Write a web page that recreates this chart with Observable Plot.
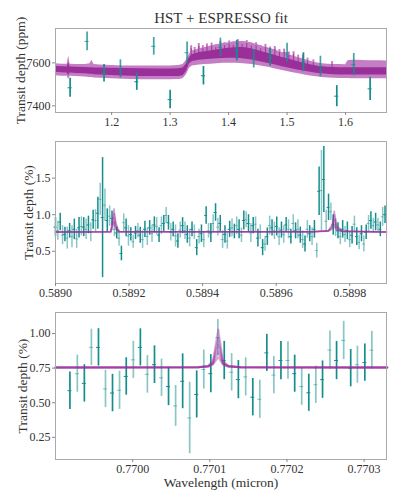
<!DOCTYPE html>
<html><head><meta charset="utf-8">
<script src="https://cdn.jsdelivr.net/npm/d3@7"></script>
<script src="https://cdn.jsdelivr.net/npm/@observablehq/plot@0.6"></script>
<style>
html,body{margin:0;padding:0;background:#fff;overflow:hidden;}
#wrap{position:relative;width:399px;height:498px;}
#wrap > svg{position:absolute;left:0;}
</style></head><body><div id="wrap"></div>
<script>
// ---------- Panel 1: HST WFC3 spectrum + model band ----------
const hstWave  = [1.129,1.158,1.187,1.215,1.243,1.272,1.300,1.329,1.357,1.386,1.414,1.443,1.471,1.500,1.528,1.557,1.585,1.614,1.642];
const hstDepth = [7484,7700,7552,7572,7512,7677,7429,7647,7540,7672,7657,7619,7626,7647,7603,7583,7445,7592,7479];
const hstErr   = [44,44,41,42,40,41,43,50,43,43,48,43,41,44,44,48,49,52,54];

const hstModelW  = [1.104,1.115,1.124,1.1265,1.129,1.14,1.155,1.163,1.166,1.170,1.18,1.20,1.22,1.25,1.28,1.30,1.315,1.322,1.328,1.333,1.338,1.35,1.36,1.37,1.38,1.39,1.40,1.41,1.42,1.43,1.44,1.45,1.46,1.47,1.48,1.49,1.50,1.51,1.52,1.53,1.54,1.55,1.56,1.57,1.58,1.59,1.600,1.604,1.61,1.62,1.63,1.64,1.65,1.66,1.670];
const hstOuterHi = [7596,7594,7594,7632,7594,7592,7592,7596,7612,7592,7590,7588,7586,7585,7585,7586,7588,7592,7612,7640,7655,7666,7672,7678,7684,7690,7694,7698,7700,7698,7692,7684,7675,7668,7660,7650,7642,7632,7624,7616,7608,7600,7596,7594,7592,7592,7591,7610,7612,7612,7611,7610,7610,7610,7609];
const hstOuterLo = [7540,7538,7538,7522,7538,7536,7534,7532,7532,7530,7528,7526,7524,7522,7522,7522,7523,7526,7545,7575,7586,7590,7592,7594,7596,7598,7598,7598,7597,7595,7592,7588,7583,7578,7572,7566,7560,7554,7549,7544,7539,7535,7532,7530,7528,7527,7527,7527,7526,7526,7526,7526,7526,7526,7526];
const hstInnerHi = [7583,7582,7581,7600,7581,7580,7578,7577,7577,7576,7576,7575,7574,7573,7572,7572,7573,7576,7595,7625,7638,7648,7652,7656,7660,7664,7668,7670,7672,7670,7665,7658,7650,7642,7634,7626,7619,7612,7604,7597,7591,7586,7582,7580,7578,7577,7577,7577,7577,7577,7577,7577,7577,7577,7577];
const hstInnerLo = [7556,7554,7553,7540,7553,7551,7549,7547,7547,7545,7543,7541,7539,7537,7536,7536,7537,7540,7560,7595,7606,7612,7615,7617,7619,7620,7621,7621,7620,7617,7613,7608,7602,7596,7590,7583,7577,7571,7566,7561,7556,7552,7549,7547,7545,7544,7543,7543,7543,7543,7543,7543,7543,7543,7543];
const hstSpikeW    = [1.336,1.342,1.349,1.356,1.363,1.371,1.378,1.386,1.393,1.401,1.408,1.416,1.423,1.431,1.439,1.447,1.455,1.463,1.471,1.479,1.487,1.495,1.503,1.511,1.519,1.527,1.535,1.545,1.577];
const hstSpikeTop  = [7680,7672,7690,7680,7688,7692,7684,7700,7694,7702,7696,7708,7700,7704,7692,7694,7680,7686,7674,7676,7662,7664,7650,7652,7636,7638,7622,7614,7606];
const hstSpikeBase = [7620,7625,7630,7632,7634,7636,7638,7640,7642,7644,7645,7646,7646,7645,7640,7635,7628,7622,7616,7610,7602,7596,7590,7584,7578,7572,7566,7562,7560];

const hstXTicks = [1.2,1.3,1.4,1.5,1.6];
const hstYTicks = [7400,7600];

// ---------- Panel 2: ESPRESSO sodium doublet ----------
const naStart = 0.5890, naStep = 0.0000064; // spectral pixel grid
const naDepth = [0.83,0.78,0.90,0.72,0.73,0.68,0.78,0.70,0.80,0.67,0.82,0.84,0.83,0.80,0.86,0.76,0.93,0.92,1.02,1.21,
0.96,1.13,0.92,0.98,0.95,0.80,0.75,0.68,0.47,0.89,0.82,0.71,0.73,0.63,0.75,0.78,0.72,0.66,0.80,0.70,
0.82,0.74,0.86,0.84,0.72,0.85,0.88,0.99,0.89,0.76,0.80,0.71,0.64,0.79,0.85,0.78,0.73,0.68,0.80,0.76,
0.55,0.70,0.74,0.66,0.99,0.78,0.75,0.88,1.03,0.83,0.88,0.66,0.73,0.64,0.80,0.82,0.77,0.85,0.80,0.72,
0.92,0.93,0.88,0.75,0.85,0.87,0.68,0.76,0.55,0.60,0.70,0.85,0.82,0.78,0.84,0.70,0.79,0.73,0.86,0.80,
0.70,0.88,0.78,0.80,0.72,0.66,0.60,0.80,0.74,0.70,0.80,0.51,1.32,1.33,1.48,0.91,1.10,1.04,0.86,0.82,
0.78,0.70,0.80,0.73,0.78,0.66,0.72,0.87,0.70,0.62,0.74,0.60,0.76,0.88,0.92,0.85,0.90,0.86,0.80,0.97,1.00];
const naErr = [0.13,0.13,0.12,0.13,0.10,0.15,0.10,0.15,0.14,0.13,0.14,0.13,0.13,0.14,0.12,0.13,0.13,0.15,0.22,0.22,
0.82,0.22,0.16,0.14,0.10,0.10,0.08,0.11,0.10,0.12,0.12,0.14,0.09,0.09,0.09,0.10,0.11,0.12,0.11,0.12,
0.10,0.12,0.11,0.12,0.10,0.12,0.11,0.11,0.10,0.12,0.10,0.15,0.10,0.11,0.11,0.12,0.12,0.12,0.10,0.10,
0.11,0.10,0.12,0.11,0.12,0.10,0.13,0.12,0.12,0.12,0.11,0.12,0.12,0.11,0.11,0.12,0.10,0.12,0.13,0.10,
0.13,0.11,0.12,0.13,0.11,0.10,0.12,0.10,0.11,0.10,0.12,0.13,0.11,0.12,0.13,0.12,0.11,0.12,0.10,0.13,
0.10,0.12,0.11,0.13,0.11,0.12,0.11,0.12,0.11,0.12,0.12,0.10,0.33,0.55,0.45,0.15,0.18,0.12,0.14,0.12,
0.11,0.11,0.12,0.11,0.12,0.11,0.12,0.11,0.12,0.10,0.11,0.11,0.10,0.11,0.12,0.10,0.12,0.09,0.10,0.13,0.12];
const naModelW = [0.5890,0.589150,0.589154,0.589159,0.589164,0.589172,0.589700,0.589742,0.589752,0.589758,0.589764,0.589778,0.5899];
const naModel = [
  [0.765,0.766,0.90,1.08,0.90,0.768,0.768,0.785,0.86,1.05,0.86,0.780,0.765],
  [0.765,0.766,0.87,1.02,0.86,0.767,0.768,0.782,0.84,0.99,0.83,0.775,0.765],
  [0.765,0.766,0.84,0.96,0.83,0.767,0.767,0.778,0.82,0.93,0.81,0.772,0.765],
  [0.765,0.766,0.81,0.90,0.80,0.767,0.767,0.774,0.80,0.87,0.79,0.770,0.765]
];
const naXTicks = [0.5890,0.5892,0.5894,0.5896,0.5898];
const naYTicks = [0.5,1.0,1.5];

// ---------- Panel 3: ESPRESSO potassium line ----------
const kWave = [0.7699187,0.7699283,0.7699374,0.7699465,0.7699557,0.7699648,0.7699739,0.7699830,0.7699917,0.7700009,
0.7700100,0.7700191,0.7700283,0.7700374,0.7700465,0.7700557,0.7700648,0.7700739,0.7700830,0.7700922,
0.7701013,0.7701104,0.7701187,0.7701283,0.7701370,0.7701465,0.7701557,0.7701648,0.7701739,0.7701830,
0.7701922,0.7702013,0.7702100,0.7702191,0.7702283,0.7702374,0.7702461,0.7702557,0.7702643,0.7702735,
0.7702826,0.7702913,0.7703009,0.7703100];
const kDepth = [0.587,0.71,0.64,0.90,0.90,0.60,0.57,0.59,0.69,0.81,
0.90,0.705,0.775,0.68,0.617,0.477,0.655,0.39,0.56,0.74,
0.71,0.97,0.805,0.72,0.667,0.687,0.54,0.525,0.86,0.70,
0.805,0.805,0.71,0.617,0.572,0.63,0.667,0.88,0.805,0.95,
0.75,0.775,0.79,0.88];
const kErr = [0.136,0.134,0.135,0.131,0.135,0.135,0.135,0.138,0.135,0.134,
0.134,0.136,0.136,0.135,0.138,0.148,0.198,0.258,0.170,0.141,
0.138,0.131,0.138,0.135,0.138,0.138,0.135,0.138,0.134,0.135,
0.138,0.136,0.134,0.135,0.134,0.135,0.135,0.138,0.138,0.138,
0.135,0.134,0.135,0.136];
const kModelW = [0.76990,0.770085,0.770098,0.770104,0.770111,0.770117,0.770124,0.770140,0.77033];
const kModel = [
  [0.755,0.757,0.768,0.80,1.03,0.80,0.768,0.757,0.755],
  [0.755,0.757,0.766,0.79,0.97,0.79,0.766,0.757,0.755],
  [0.755,0.756,0.764,0.785,0.92,0.785,0.764,0.756,0.755],
  [0.755,0.756,0.762,0.78,0.87,0.78,0.762,0.756,0.755],
  [0.755,0.756,0.760,0.775,0.83,0.775,0.760,0.756,0.755]
];
const kXTicks = [0.7700,0.7701,0.7702,0.7703];
const kYTicks = [0.25,0.50,0.75,1.00];

// ---------- build tables ----------
const hst = hstWave.map((w,i)=>({w, v: hstDepth[i], e: hstErr[i], a: i%2 ? 0.8 : 1}));
const hstBand = hstModelW.map((w,i)=>({w, oLo: hstOuterLo[i], oHi: hstOuterHi[i], iLo: hstInnerLo[i], iHi: hstInnerHi[i]}));
const hstSpikes = hstSpikeW.map((w,i)=>({w, lo: hstSpikeBase[i], hi: hstSpikeTop[i]}));
const na = naDepth.map((v,i)=>({w: naStart + i*naStep, v, e: naErr[i], a: i%2 ? 0.5 : 1}));
const naLines = naModel.flatMap((s,k)=>s.map((v,i)=>({w: naModelW[i], v, s: k})));
const kd = kDepth.map((v,i)=>({w: kWave[i], v, e: kErr[i], a: i%2 ? 0.5 : 1}));
const kLines = kModel.flatMap((s,k)=>s.map((v,i)=>({w: kModelW[i], v, s: k})));

const FONT = '"Liberation Serif", "DejaVu Serif", serif';
const STYLE = {fontFamily: FONT, fontSize: "12px", color: "#333", background: "transparent", overflow: "visible"};
const TEAL = "#158d8d", PURPLE = "#9a2f9a", LIGHTPURPLE = "#c47ec4";
const FRAME = "#aaaaaa";
const wrap = document.getElementById("wrap");
function place(svg, top){ svg.style.top = top + "px"; wrap.appendChild(svg); }

const axisOpts = {tickSize: 3, tickPadding: 2, label: null, stroke: "#888"};
const yLabel = (txt, dx) => Plot.text([txt], {frameAnchor: "left", dx, rotate: -90, textAnchor: "middle", lineAnchor: "middle", fontSize: 13.5});

// Panel 1
place(Plot.plot({
  width: 399, height: 135, marginTop: 28, marginBottom: 23, marginLeft: 55, marginRight: 13,
  style: STYLE,
  x: {domain: [1.104, 1.670]},
  y: {domain: [7369, 7760]},
  marks: [
    Plot.areaY(hstBand, {x: "w", y1: "oLo", y2: "oHi", fill: LIGHTPURPLE}),
    Plot.ruleX(hstSpikes, {x: "w", y1: "lo", y2: "hi", stroke: LIGHTPURPLE, strokeWidth: 2}),
    Plot.areaY(hstBand, {x: "w", y1: "iLo", y2: "iHi", fill: PURPLE}),
    Plot.ruleX(hstSpikes, {x: "w", y1: "lo", y2: d => d.hi - 14, stroke: PURPLE, strokeWidth: 1.1, strokeOpacity: 0.85}),
    Plot.ruleX(hst, {x: "w", y1: d => d.v - d.e, y2: d => d.v + d.e, stroke: TEAL, strokeWidth: 1.7, strokeOpacity: d => d.a}),
    Plot.ruleY(hst, {y: "v", x1: d => d.w - 0.0035, x2: d => d.w + 0.0035, stroke: TEAL, strokeWidth: 1, strokeOpacity: d => d.a}),
    Plot.frame({stroke: FRAME}),
    Plot.axisX(hstXTicks, {...axisOpts, tickFormat: d3.format(".1f")}),
    Plot.axisY(hstYTicks, {...axisOpts, tickFormat: d3.format("d")}),
    Plot.text(["HST + ESPRESSO fit"], {frameAnchor: "top", dy: -10, textAnchor: "middle", lineAnchor: "middle", fontSize: 15}),
    yLabel("Transit depth (ppm)", -35)
  ]
}), 0);

// Panel 2
place(Plot.plot({
  width: 399, height: 180, marginTop: 11, marginBottom: 27, marginLeft: 55, marginRight: 13,
  style: STYLE,
  x: {domain: [0.5890, 0.5899]},
  y: {domain: [0.06, 2.0]},
  marks: [
    Plot.ruleX(na, {x: "w", y1: d => d.v - d.e, y2: d => d.v + d.e, stroke: TEAL, strokeWidth: 1.5, strokeOpacity: d => d.a}),
    Plot.ruleY(na, {y: "v", x1: d => d.w - 0.000004, x2: d => d.w + 0.000004, stroke: TEAL, strokeWidth: 1, strokeOpacity: d => d.a}),
    Plot.line(naLines, {x: "w", y: "v", z: "s", stroke: PURPLE, strokeOpacity: 0.45, strokeWidth: 1.5}),
    Plot.frame({stroke: FRAME}),
    Plot.axisX(naXTicks, {...axisOpts, tickFormat: d3.format(".4f")}),
    Plot.axisY(naYTicks, {...axisOpts, tickFormat: d3.format(".1f")}),
    yLabel("Transit depth (%)", -27)
  ]
}), 130);

// Panel 3
place(Plot.plot({
  width: 399, height: 193, marginTop: 7, marginBottom: 39, marginLeft: 55, marginRight: 13,
  style: STYLE,
  x: {domain: [0.76990, 0.770329]},
  y: {domain: [0.09, 1.152]},
  marks: [
    Plot.ruleX(kd, {x: "w", y1: d => d.v - d.e, y2: d => d.v + d.e, stroke: TEAL, strokeWidth: 1.7, strokeOpacity: d => d.a}),
    Plot.ruleY(kd, {y: "v", x1: d => d.w - 0.0000026, x2: d => d.w + 0.0000026, stroke: TEAL, strokeWidth: 1, strokeOpacity: d => d.a}),
    Plot.line(kLines, {x: "w", y: "v", z: "s", stroke: PURPLE, strokeOpacity: 0.4, strokeWidth: 2}),
    Plot.frame({stroke: FRAME}),
    Plot.axisX(kXTicks, {...axisOpts, tickFormat: d3.format(".4f")}),
    Plot.axisY(kYTicks, {...axisOpts, tickFormat: d3.format(".2f")}),
    yLabel("Transit depth (%)", -33),
    Plot.text(["Wavelength (micron)"], {frameAnchor: "bottom", dy: 23, textAnchor: "middle", lineAnchor: "middle", fontSize: 13.5})
  ]
}), 305);
</script></body></html>
